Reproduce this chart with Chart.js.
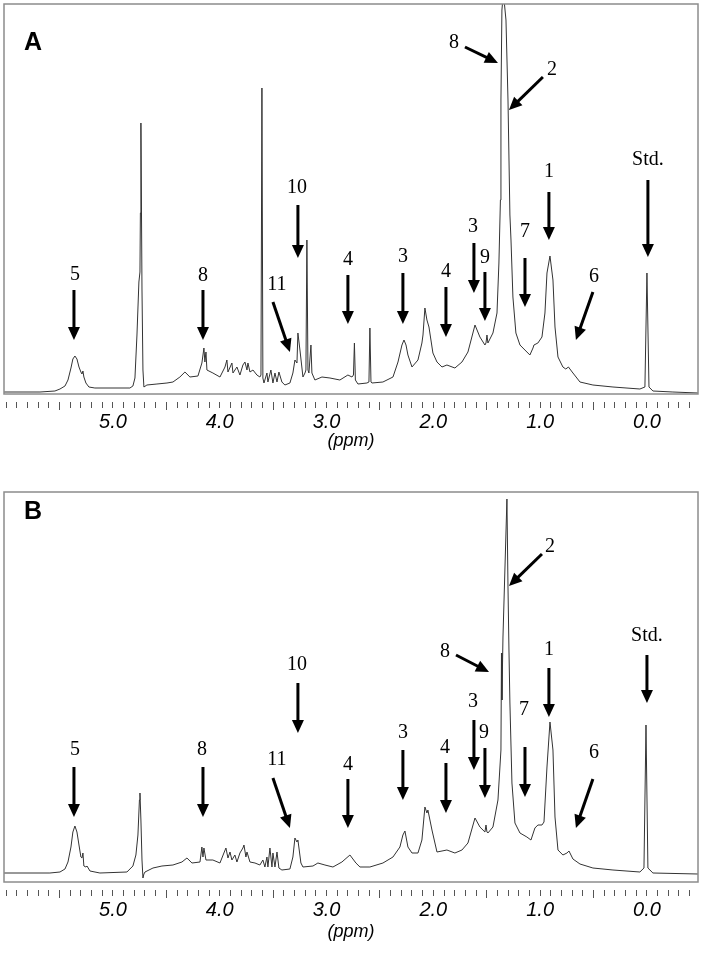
<!DOCTYPE html>
<html><head><meta charset="utf-8">
<script src="https://cdn.jsdelivr.net/npm/chart.js@4/dist/chart.umd.min.js"></script>
<style>
html,body{margin:0;padding:0;background:#fff;}
#wrap{width:703px;height:955px;position:relative;overflow:hidden;}
.pane{position:absolute;left:0;width:703px;}
canvas{display:block;}
</style></head><body>
<div id="wrap">
<div class="pane" style="top:0;height:488px"><canvas id="cA" width="703" height="488"></canvas></div>
<div class="pane" style="top:488px;height:467px"><canvas id="cB" width="703" height="467"></canvas></div>
</div>
<script>
// ---- Data (chemical shift in ppm, intensity in arbitrary units) ----
const ppmA = [6.020,5.683,5.543,5.496,5.449,5.421,5.393,5.375,5.356,5.337,5.318,5.300,5.290,5.281,5.272,5.253,5.225,5.169,4.841,4.813,4.794,4.775,4.757,4.747,4.743,4.738,4.728,4.719,4.710,4.682,4.588,4.494,4.438,4.373,4.326,4.279,4.204,4.167,4.148,4.139,4.129,4.120,4.064,3.998,3.951,3.933,3.923,3.886,3.876,3.839,3.811,3.783,3.764,3.745,3.736,3.717,3.689,3.652,3.624,3.614,3.605,3.596,3.586,3.558,3.549,3.521,3.502,3.483,3.464,3.446,3.418,3.390,3.343,3.315,3.296,3.277,3.268,3.249,3.221,3.202,3.193,3.184,3.174,3.165,3.146,3.137,3.109,3.043,2.968,2.875,2.800,2.762,2.748,2.739,2.730,2.706,2.622,2.603,2.594,2.584,2.575,2.472,2.378,2.331,2.294,2.275,2.256,2.238,2.200,2.144,2.107,2.097,2.079,2.060,2.041,2.004,1.966,1.919,1.873,1.798,1.732,1.676,1.610,1.564,1.517,1.507,1.498,1.489,1.442,1.404,1.386,1.372,1.367,1.358,1.344,1.320,1.301,1.283,1.273,1.255,1.227,1.189,1.124,1.096,1.067,1.058,1.021,0.983,0.955,0.936,0.908,0.880,0.861,0.833,0.787,0.760,0.735,0.700,0.627,0.506,0.318,0.066,0.019,0.000,-0.019,-0.056,-0.243,-0.478];
const intA = [1,1,2,4,7,13,25,34,37,34,26,21,19,22,16,10,6,5,5,7,15,58,111,121,180,270,103,23,6,8,9,10,11,16,21,16,17,30,45,31,41,23,20,16,26,33,21,30,20,26,18,28,31,23,30,21,23,18,16,18,305,15,10,20,11,23,10,20,11,21,11,8,10,20,33,30,60,43,16,20,23,153,23,20,48,20,13,16,15,13,18,16,18,50,13,9,10,11,65,11,10,11,16,31,48,53,48,38,26,33,50,58,85,73,66,40,31,26,28,25,31,41,68,56,48,50,58,50,60,80,130,193,293,383,400,373,293,178,153,96,60,48,41,38,45,48,50,56,80,120,137,113,66,36,26,24,26,21,11,8,6,4,6,120,6,2,1,0];

const ppmB = [6.020,5.590,5.496,5.449,5.421,5.393,5.375,5.356,5.337,5.318,5.300,5.290,5.281,5.272,5.253,5.243,5.215,5.122,4.869,4.813,4.785,4.766,4.752,4.747,4.738,4.728,4.719,4.710,4.700,4.625,4.541,4.438,4.354,4.307,4.260,4.185,4.167,4.157,4.148,4.129,4.064,3.998,3.961,3.942,3.923,3.904,3.886,3.858,3.839,3.811,3.783,3.773,3.755,3.745,3.717,3.670,3.624,3.596,3.577,3.558,3.549,3.530,3.511,3.502,3.483,3.464,3.446,3.418,3.343,3.315,3.296,3.277,3.268,3.240,3.221,3.127,3.081,3.015,2.940,2.856,2.781,2.725,2.687,2.594,2.472,2.378,2.313,2.285,2.266,2.238,2.200,2.144,2.107,2.079,2.060,2.051,2.013,1.966,1.873,1.798,1.732,1.676,1.610,1.564,1.517,1.507,1.498,1.489,1.442,1.395,1.367,1.362,1.358,1.348,1.330,1.311,1.301,1.292,1.283,1.264,1.236,1.189,1.124,1.086,1.049,1.021,0.983,0.964,0.936,0.908,0.880,0.861,0.833,0.787,0.749,0.730,0.693,0.627,0.506,0.318,0.066,0.028,0.009,-0.009,-0.056,-0.478];
const intB = [9,9,10,13,20,35,50,56,50,37,25,24,29,16,15,16,11,9,10,16,27,47,82,89,62,22,4,8,10,14,16,17,20,24,19,20,35,25,34,22,22,19,29,34,24,30,22,27,20,29,34,37,25,30,20,19,17,22,15,25,15,34,15,29,15,30,14,12,13,25,44,40,42,19,15,16,19,17,15,20,27,19,15,15,19,25,35,47,51,35,29,29,42,75,69,72,52,30,32,29,32,39,64,55,50,57,50,49,55,82,132,229,182,245,312,383,295,232,179,99,59,49,45,42,54,57,57,60,115,160,132,65,32,27,29,31,23,18,14,12,10,14,157,14,9,8];

// ---- Axis ----
const tickLabels = [0, 1, 2, 3, 4, 5];
const X_MIN = -0.478, X_MAX = 6.02;
const minorTicks = [];
for (let k = -4; k <= 60; k++) minorTicks.push(k / 10);

// ---- Annotations (label, label position, arrow from -> to), in ppm / intensity ----
const notesA = [
  {t:'5',  tx:5.356, ty:118, x0:5.365, y0:103, x1:5.365, y1:53},
  {t:'8',  tx:4.157, ty:117, x0:4.157, y0:103, x1:4.157, y1:53},
  {t:'11', tx:3.464, ty:108, x0:3.502, y0:91,  x1:3.343, y1:41},
  {t:'10', tx:3.277, ty:205, x0:3.268, y0:188, x1:3.268, y1:135},
  {t:'4',  tx:2.800, ty:133, x0:2.800, y0:118, x1:2.800, y1:69},
  {t:'3',  tx:2.285, ty:136, x0:2.285, y0:120, x1:2.285, y1:69},
  {t:'4',  tx:1.882, ty:121, x0:1.882, y0:106, x1:1.882, y1:56},
  {t:'3',  tx:1.629, ty:166, x0:1.620, y0:150, x1:1.620, y1:100},
  {t:'9',  tx:1.517, ty:135, x0:1.517, y0:121, x1:1.517, y1:72},
  {t:'7',  tx:1.142, ty:161, x0:1.142, y0:135, x1:1.142, y1:86},
  {t:'1',  tx:0.918, ty:221, x0:0.918, y0:201, x1:0.918, y1:153},
  {t:'6',  tx:0.496, ty:116, x0:0.506, y0:101, x1:0.665, y1:53},
  {t:'Std.', tx:-0.009, ty:233, x0:-0.009, y0:213, x1:-0.009, y1:136},
  {t:'8',  tx:1.807, ty:350, x0:1.704, y0:346, x1:1.395, y1:330},
  {t:'2',  tx:0.890, ty:323, x0:0.974, y0:316, x1:1.292, y1:283}
];
const notesB = [
  {t:'5',  tx:5.356, ty:132, x0:5.365, y0:115, x1:5.365, y1:65},
  {t:'8',  tx:4.167, ty:132, x0:4.157, y0:115, x1:4.157, y1:65},
  {t:'11', tx:3.464, ty:122, x0:3.502, y0:104, x1:3.343, y1:54},
  {t:'10', tx:3.277, ty:217, x0:3.268, y0:199, x1:3.268, y1:149},
  {t:'4',  tx:2.800, ty:117, x0:2.800, y0:103, x1:2.800, y1:54},
  {t:'3',  tx:2.285, ty:149, x0:2.285, y0:132, x1:2.285, y1:82},
  {t:'4',  tx:1.891, ty:134, x0:1.882, y0:119, x1:1.882, y1:69},
  {t:'3',  tx:1.629, ty:180, x0:1.620, y0:162, x1:1.620, y1:112},
  {t:'9',  tx:1.526, ty:149, x0:1.517, y0:134, x1:1.517, y1:84},
  {t:'7',  tx:1.152, ty:172, x0:1.142, y0:135, x1:1.142, y1:85},
  {t:'1',  tx:0.918, ty:232, x0:0.918, y0:214, x1:0.918, y1:165},
  {t:'6',  tx:0.496, ty:129, x0:0.506, y0:103, x1:0.665, y1:54},
  {t:'Std.', tx:0.000, ty:246, x0:0.000, y0:227, x1:0.000, y1:179},
  {t:'2',  tx:0.908, ty:335, x0:0.983, y0:328, x1:1.292, y1:296},
  {t:'8',  tx:1.891, ty:230, x0:1.788, y0:227, x1:1.479, y1:210}
];

function drawArrow(ctx, x0, y0, x1, y1) {
  const dx = x1 - x0, dy = y1 - y0, L = Math.hypot(dx, dy);
  const ux = dx / L, uy = dy / L, head = 13, half = 6;
  const bx = x1 - ux * head, by = y1 - uy * head;
  ctx.beginPath(); ctx.lineWidth = 3; ctx.strokeStyle = '#000';
  ctx.moveTo(x0, y0); ctx.lineTo(bx + ux * 2, by + uy * 2); ctx.stroke();
  ctx.beginPath(); ctx.fillStyle = '#000';
  ctx.moveTo(x1, y1);
  ctx.lineTo(bx - uy * half, by + ux * half);
  ctx.lineTo(bx + uy * half, by - ux * half);
  ctx.closePath(); ctx.fill();
}

const overlay = {
  id: 'overlay',
  afterDatasetsDraw(chart, args, opts) {
    const {ctx, chartArea: a, scales: {x, y}} = chart;
    ctx.save();
    ctx.strokeStyle = '#8c8c8c'; ctx.lineWidth = 1.5;
    ctx.strokeRect(a.left, a.top, a.right - a.left, a.bottom - a.top);
    ctx.fillStyle = '#000';
    ctx.font = 'bold 25px "Liberation Sans", Arial, sans-serif';
    ctx.textAlign = 'left'; ctx.textBaseline = 'alphabetic';
    ctx.fillText(opts.letter, a.left + opts.lx, a.top + opts.ly);
    ctx.font = '20px "Liberation Serif", "Times New Roman", serif';
    ctx.textAlign = 'center'; ctx.textBaseline = 'middle';
    for (const n of opts.notes) {
      ctx.fillStyle = '#000';
      ctx.fillText(n.t, x.getPixelForValue(n.tx), y.getPixelForValue(n.ty));
      drawArrow(ctx, x.getPixelForValue(n.x0), y.getPixelForValue(n.y0),
                     x.getPixelForValue(n.x1), y.getPixelForValue(n.y1));
    }
    ctx.restore();
  }
};

function makeChart(id, ppm, ints, yMin, yMax, axisH, titlePad, notes, letter, lx, ly) {
  new Chart(document.getElementById(id), {
    type: 'line',
    data: { datasets: [{
      data: ppm.map((p, i) => ({x: p, y: ints[i]})),
      borderColor: '#333', borderWidth: 1, pointRadius: 0, tension: 0, fill: false
    }]},
    options: {
      responsive: false, animation: false, devicePixelRatio: 1,
      layout: { padding: {top: 4, left: 4, right: 5, bottom: 0} },
      plugins: { legend: {display: false}, tooltip: {enabled: false},
                 overlay: {notes, letter, lx, ly} },
      scales: {
        x: {
          type: 'linear', reverse: true, min: X_MIN, max: X_MAX,
          afterBuildTicks: s => { s.ticks = minorTicks.map(v => ({value: v})); },
          afterFit: s => { s.height = axisH; },
          border: {display: false},
          grid: {
            drawOnChartArea: false, drawTicks: true, tickLength: 16,
            tickColor: '#555', tickWidth: 1,
            tickBorderDash: c => (Math.abs(Math.round(c.tick.value * 10) % 10) === 5) ? [0, 8, 8, 100] : [0, 8, 6, 100]
          },
          ticks: {
            autoSkip: false, maxRotation: 0, minRotation: 0, padding: 0, color: '#000',
            font: {family: '"Liberation Sans", Arial, sans-serif', size: 20, style: 'italic'},
            callback: v => {
              const k = Math.round(v * 10);
              return (k % 10 === 0 && tickLabels.includes(k / 10)) ? (k / 10).toFixed(1) : '';
            }
          },
          title: {
            display: true, text: '(ppm)', color: '#000',
            font: {family: '"Liberation Sans", Arial, sans-serif', size: 18, style: 'italic'},
            padding: {top: 0, bottom: titlePad}
          }
        },
        y: { display: false, min: yMin, max: yMax }
      }
    },
    plugins: [overlay]
  });
}

makeChart('cA', ppmA, intA, -1, 389, 94, 36, notesA, 'A', 20, 46);
makeChart('cB', ppmB, intB, 0, 390, 73, 12, notesB, 'B', 20, 27);
</script>
</body></html>
